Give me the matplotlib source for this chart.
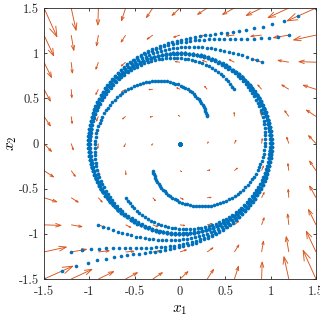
import numpy as np
import matplotlib
matplotlib.use("Agg")
import matplotlib.pyplot as plt
from matplotlib.collections import LineCollection

# values
grid_pts = [-1.5, -1.2, -0.9, -0.6, -0.3, 0.0, 0.3, 0.6, 0.9, 1.2, 1.5]
start_x1 = [0.0, 0.3, 0.6, 0.9, 1.2, 1.5, -0.3, -0.6, -0.9, -1.2, -1.5]
start_x2 = [0.0, 0.3, 0.6, 0.9, 1.2, 1.5, -0.3, -0.6, -0.9, -1.2, -1.5]
axis_ticks = [-1.5, -1, -0.5, 0, 0.5, 1, 1.5]
omega = 1.0      # rotation rate of the limit cycle
gain = 0.75      # radial attraction rate
dt = 0.043       # sampling step of the dots
t_end = 6.3

BLUE = "#0072BD"
ORANGE = "#D95319"

plt.rcParams["font.family"] = "cmr10"
plt.rcParams["mathtext.fontset"] = "cm"
plt.rcParams["axes.unicode_minus"] = False


def field(x1, x2):
    r2 = x1 ** 2 + x2 ** 2
    return -omega * x2 + gain * x1 * (1 - r2), omega * x1 + gain * x2 * (1 - r2)


def trajectory(x1, x2, n_sub=10):
    h = dt / n_sub
    pts = [(x1, x2)]
    for _ in range(int(round(t_end / dt))):
        for _ in range(n_sub):
            k1 = field(x1, x2)
            k2 = field(x1 + h / 2 * k1[0], x2 + h / 2 * k1[1])
            k3 = field(x1 + h / 2 * k2[0], x2 + h / 2 * k2[1])
            k4 = field(x1 + h * k3[0], x2 + h * k3[1])
            x1 += h / 6 * (k1[0] + 2 * k2[0] + 2 * k3[0] + k4[0])
            x2 += h / 6 * (k1[1] + 2 * k2[1] + 2 * k3[1] + k4[1])
        pts.append((x1, x2))
    return np.array(pts)


fig = plt.figure(figsize=(3.2, 3.2), dpi=100)
ax = fig.add_axes([0.1375, 0.128, 0.85, 0.847])

# quiver with matlab-style autoscale and open arrow heads
X, Y = np.meshgrid(grid_pts, grid_pts)
U, V = field(X, Y)
n = np.sqrt(X.size)
delx = (max(grid_pts) - min(grid_pts)) / n
lens = np.sqrt((U ** 2 + V ** 2) / (2 * delx ** 2))
s = 0.9 / lens.max()
U, V = U * s, V * s
alpha, beta = 0.33, 0.33
segs = []
for x, y, u, v in zip(X.ravel(), Y.ravel(), U.ravel(), V.ravel()):
    segs.append([(x, y), (x + u, y + v)])
    segs.append([(x + u - alpha * (u + beta * v), y + v - alpha * (v - beta * u)),
                 (x + u, y + v),
                 (x + u - alpha * (u - beta * v), y + v - alpha * (v + beta * u))])
ax.add_collection(LineCollection(segs, colors=ORANGE, linewidths=0.65))

for a, b in zip(start_x1, start_x2):
    tr = trajectory(a, b)
    ax.plot(tr[:, 0], tr[:, 1], "o", color=BLUE, markersize=2.6, markeredgewidth=0)

ax.set_xlim(-1.5, 1.5)
ax.set_ylim(-1.5, 1.5)
ax.set_xticks(axis_ticks)
ax.set_yticks(axis_ticks)
ax.set_xticklabels([f"{v:g}" for v in axis_ticks], fontsize=9)
ax.set_yticklabels([f"{v:g}" for v in axis_ticks], fontsize=9)
ax.tick_params(axis="x", pad=5)
ax.tick_params(direction="in", top=True, right=True, length=2.5, width=0.6,
               colors="#262626")
for sp in ax.spines.values():
    sp.set_color("#262626")
    sp.set_linewidth(0.6)
ax.set_xlabel("$x_1$", fontsize=11, labelpad=4)
ax.set_ylabel("$x_2$", fontsize=11, labelpad=0)

fig.savefig("out.png", dpi=100)
